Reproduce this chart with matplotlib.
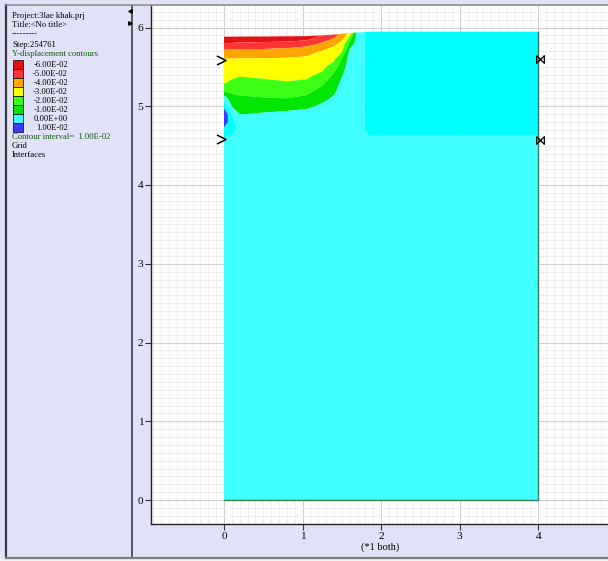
import numpy as np
import matplotlib
matplotlib.use("Agg")
import matplotlib.pyplot as plt
from matplotlib.path import Path
from matplotlib.patches import Rectangle
from matplotlib.ticker import MultipleLocator

# ---------------- data ----------------
# grid columns (x, m) and rows (y, m); the last row follows the deformed top surface
x_cols = [0.0, 0.1, 0.2, 0.5, 0.8, 1.05, 1.25, 1.4, 1.5, 1.6, 1.7, 1.85, 2.5, 4.0]
y_rows = [0.0, 4.3, 4.55, 4.7, 4.8, 4.9, 5.0, 5.1, 5.2, 5.3, 5.4, 5.5, 5.6, 5.7, 5.8]
y_top = [5.883, 5.884, 5.885, 5.886, 5.888, 5.89, 5.90, 5.91, 5.92, 5.93, 5.938, 5.947, 5.947, 5.947]

# Y-displacement (m) at each grid column, listed bottom row -> top row
disp_x000 = [-0.003, -0.003, -0.003, 0.007, 0.016, 0.020, 0.0067, -0.0038, -0.022, -0.0311, -0.034, -0.0369, -0.0397, -0.0472, -0.060, -0.072]
disp_x010 = [-0.003, -0.003, -0.003, 0.002, 0.004, -0.001, -0.010, -0.0163, -0.0224, -0.0282, -0.0325, -0.0361, -0.0396, -0.0472, -0.0593, -0.072]
disp_x020 = [-0.003, -0.003, -0.003, -0.003, -0.005, -0.0104, -0.0144, -0.0184, -0.0226, -0.0268, -0.031, -0.0352, -0.0394, -0.0471, -0.0587, -0.071]
disp_x050 = [-0.003, -0.003, -0.003, -0.003, -0.004, -0.009, -0.0142, -0.0195, -0.0238, -0.0281, -0.032, -0.0356, -0.0393, -0.047, -0.0581, -0.069]
disp_x080 = [-0.003, -0.003, -0.003, -0.003, -0.004, -0.0075, -0.0138, -0.020, -0.0248, -0.0295, -0.0328, -0.0358, -0.0389, -0.0457, -0.0571, -0.069]
disp_x105 = [-0.003, -0.003, -0.003, -0.003, -0.004, -0.0063, -0.012, -0.0177, -0.0232, -0.0284, -0.0321, -0.0352, -0.0382, -0.0436, -0.0546, -0.068]
disp_x125 = [-0.003, -0.003, -0.003, -0.003, -0.003, -0.005, -0.0083, -0.0126, -0.017, -0.0219, -0.0281, -0.0325, -0.036, -0.0395, -0.0489, -0.0595]
disp_x140 = [-0.003, -0.003, -0.003, -0.003, -0.003, -0.004, -0.006, -0.0087, -0.0119, -0.0152, -0.0184, -0.025, -0.0322, -0.0365, -0.0424, -0.0553]
disp_x150 = [-0.003, -0.003, -0.003, -0.003, -0.003, -0.004, -0.004, -0.005, -0.006, -0.008, -0.0108, -0.015, -0.0192, -0.0313, -0.038, -0.0465]
disp_x160 = [-0.003, -0.003, -0.003, -0.003, -0.003, -0.003, -0.004, -0.004, -0.004, -0.005, -0.005, -0.005, -0.006, -0.008, -0.0167, -0.037]
disp_x170 = [-0.003, -0.003, -0.003, -0.004, -0.004, -0.004, -0.004, -0.004, -0.004, -0.004, -0.004, -0.004, -0.004, -0.005, -0.005, -0.006]
disp_x185 = [-0.003, -0.003, -0.003, 0.003, 0.003, 0.003, 0.003, 0.003, 0.003, 0.003, 0.003, 0.003, 0.003, 0.003, 0.003, 0.003]
disp_x250 = [-0.003, -0.003, -0.003, 0.003, 0.003, 0.003, 0.003, 0.003, 0.003, 0.003, 0.003, 0.003, 0.003, 0.003, 0.003, 0.003]
disp_x400 = [-0.003, -0.003, -0.003, 0.003, 0.003, 0.003, 0.003, 0.003, 0.003, 0.003, 0.003, 0.003, 0.003, 0.003, 0.003, 0.003]

contour_levels = [-0.08, -0.06, -0.05, -0.04, -0.03, -0.02, -0.01, 0.0, 0.01, 0.03]
band_colors = ['#e31212', '#ff3535', '#ffa500', '#ffff00', '#3cff14',
               '#00e600', '#40ffff', '#00ffff', '#3c3cff']

legend_labels = ['-6.00E-02', '-5.00E-02', '-4.00E-02', '-3.00E-02',
                 '-2.00E-02', '-1.00E-02', '0.00E+00', '1.00E-02']
legend_colors = ['#e31212', '#ff3535', '#ffa500', '#ffff00',
                 '#3cff14', '#00e600', '#40ffff', '#3c3cff']

# fixity / interface symbols along the side boundaries
left_marks_x = [0.0, 0.0]
left_marks_y = [5.585, 4.585]
right_marks_x = [4.0, 4.0]
right_marks_y = [5.60, 4.575]

x_ticks = [0, 1, 2, 3, 4]
y_ticks = [0, 1, 2, 3, 4, 5, 6]

# ---------------- figure ----------------
LAV = '#e1e1f8'
W, H = 608, 561
fig = plt.figure(figsize=(W / 100, H / 100), dpi=100)
fig.patch.set_facecolor(LAV)
serif = ['Liberation Serif', 'DejaVu Serif']

# main model view
ax = fig.add_axes([151 / W, (H - 524) / H, (W - 151) / W, (524 - 6) / H])
ax.set_facecolor('white')
ax.set_xlim((151 - 224) / 78.6, (608 - 224) / 78.6)
ax.set_ylim((500 - 524) / 78.75, (500 - 6) / 78.75)

ax.xaxis.set_major_locator(MultipleLocator(1))
ax.yaxis.set_major_locator(MultipleLocator(1))
ax.xaxis.set_minor_locator(MultipleLocator(0.1))
ax.yaxis.set_minor_locator(MultipleLocator(0.1))
ax.grid(which='minor', color='#ececec', lw=0.6, zorder=0)
ax.grid(which='major', color='#d0d0d0', lw=0.8, zorder=0)
ax.set_axisbelow(True)
ax.set_xticks(x_ticks)
ax.set_yticks(y_ticks)
ax.tick_params(which='major', direction='out', length=4, width=0.8,
               color='#333333', pad=1.5, labelsize=8.2)
ax.tick_params(which='minor', length=0)
for lab in ax.get_xticklabels() + ax.get_yticklabels():
    lab.set_family(serif)
for s in ['top', 'right']:
    ax.spines[s].set_visible(False)
for s in ['left', 'bottom']:
    ax.spines[s].set_color('#222222')
    ax.spines[s].set_linewidth(1.0)

# displacement field on the deformed grid
columns = [disp_x000, disp_x010, disp_x020, disp_x050, disp_x080, disp_x105,
           disp_x125, disp_x140, disp_x150, disp_x160, disp_x170, disp_x185,
           disp_x250, disp_x400]
Z = np.array(columns).T
X = np.tile(np.array(x_cols), (len(y_rows) + 1, 1))
Y = np.vstack([np.tile(np.array(y_rows)[:, None], (1, len(x_cols))),
               np.array(y_top)[None, :]])
ax.contourf(X, Y, Z, levels=contour_levels, colors=band_colors, zorder=2,
            antialiased=True)

# model outline (right and bottom edges)
ax.plot([0, 4, 4], [0, 0, y_top[-1]], color='#3d7a5c', lw=1.0, zorder=3)

# boundary symbols
chev = Path([(-1, 1), (1, 0), (-1, -1)], [Path.MOVETO, Path.LINETO, Path.LINETO])
bow = Path([(-1, 1), (1, -1), (1, 1), (-1, -1), (-1, 1)],
           [Path.MOVETO, Path.LINETO, Path.LINETO, Path.LINETO, Path.LINETO])
ax.plot(np.array(left_marks_x) - 0.04, left_marks_y, ls='none', marker=chev,
        ms=6.5, mfc='none', mec='black', mew=1.1, zorder=4, clip_on=False)
ax.plot(np.array(right_marks_x) + 0.02, right_marks_y, ls='none', marker=bow,
        ms=5.5, mfc='none', mec='black', mew=0.9, zorder=4, clip_on=False)

# ---------------- info panel / frame ----------------
ui = fig.add_axes([0, 0, 1, 1], zorder=-1)
ui.set_xlim(0, W)
ui.set_ylim(H, 0)
ui.axis('off')
ui.patch.set_alpha(0)

px = 0.72  # points per pixel
ui.plot([6, 6], [5, 557], color='#3a3a3a', lw=2.2 * px)
ui.plot([132, 132], [5, 557], color='#3a3a3a', lw=1.6 * px)
ui.plot([6, W], [5, 5], color='#8c8c8c', lw=1.6 * px)
ui.plot([6, W], [557.5, 557.5], color='#7a7a7a', lw=2.2 * px)
ui.add_patch(Rectangle((0, 559), W, 3, color='#f2f2f2', lw=0))
ui.plot([130], [11], marker='<', ms=2.5, color='black')
ui.plot([130], [23], marker='>', ms=2.5, color='black')

fs = 6.2
txt = dict(fontsize=fs, family=serif, va='center', ha='left')
ui.text(12, 16, 'Project:3lae khak.prj', color='black', **txt)
ui.text(12, 25, 'Title:<No title>', color='black', **txt)
ui.text(12, 34, '---------', color='black', **txt)
ui.text(12, 45, 'Step:254761', color='black', **txt)
ui.text(12, 54, 'Y-displacement contours', color='#0b5e0b', **txt)

y0, dy = 59.5, 9.0
for i, (lab, col) in enumerate(zip(legend_labels, legend_colors)):
    ui.add_patch(Rectangle((13, y0 + i * dy), 10, dy, facecolor=col,
                           edgecolor='black', lw=0.5))
    ui.text(68, y0 + i * dy + 5, lab, fontsize=fs, family=serif,
            va='center', ha='right', color='black')

ui.text(12, 137, 'Contour interval=  1.00E-02', color='#0b5e0b', **txt)
ui.text(12, 146, 'Grid', color='black', **txt)
ui.text(12, 155, 'Interfaces', color='black', **txt)

ui.text(380, 547.5, '(*1 both)', fontsize=7.5, family=serif, ha='center',
        va='center', color='black')

fig.savefig('out.png', dpi=100, facecolor=fig.get_facecolor())
